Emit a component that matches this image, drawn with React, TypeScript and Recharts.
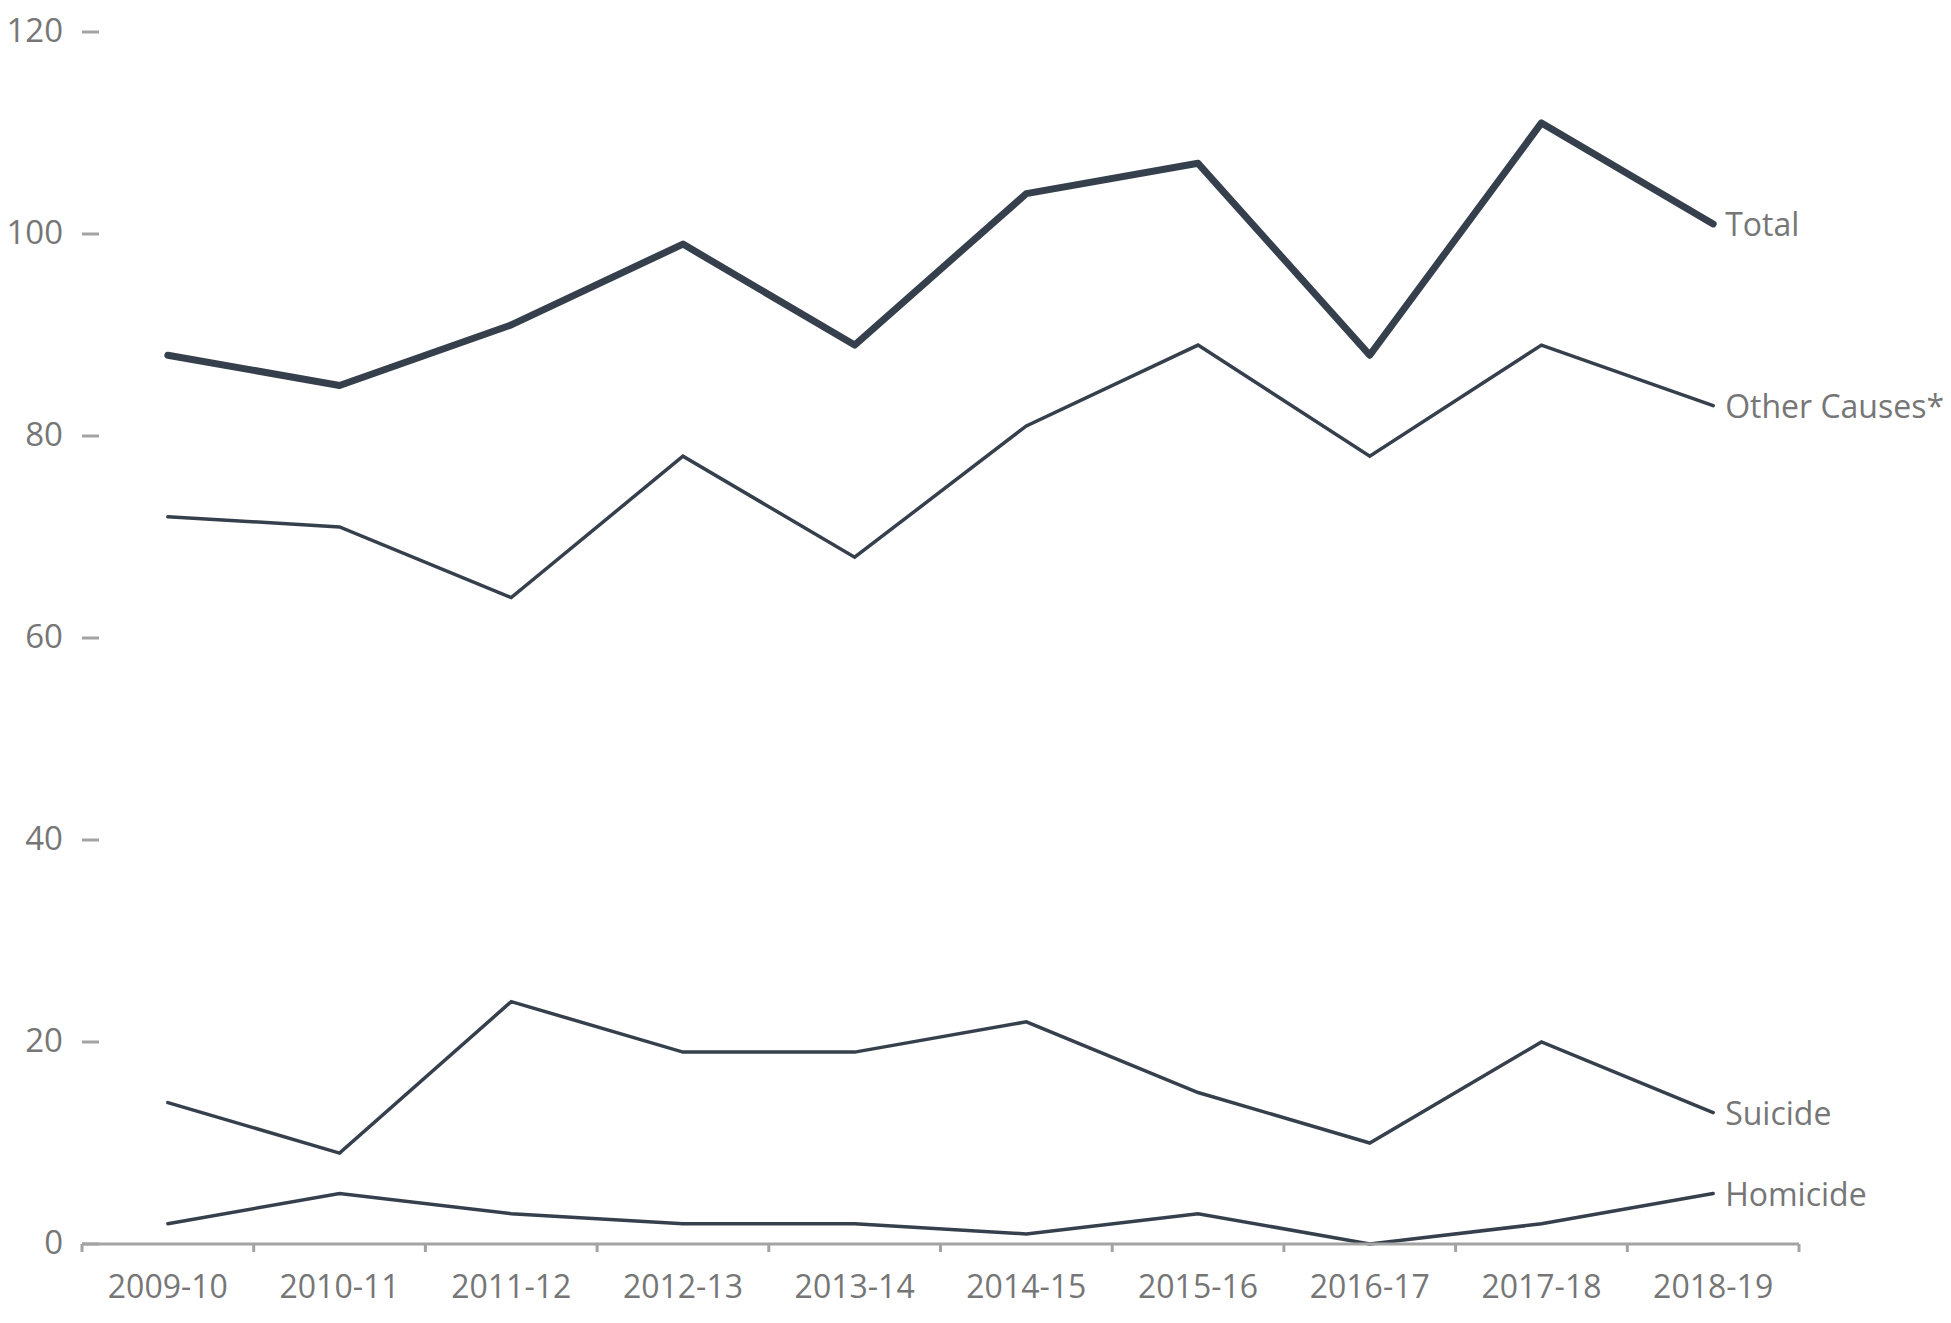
import React from "react";
import { LineChart, Line, XAxis, YAxis, LabelList } from "recharts";

const years = ["2009-10", "2010-11", "2011-12", "2012-13", "2013-14", "2014-15", "2015-16", "2016-17", "2017-18", "2018-19"];
const total = [88, 85, 91, 99, 89, 104, 107, 88, 111, 101];
const otherCauses = [72, 71, 64, 78, 68, 81, 89, 78, 89, 83];
const suicide = [14, 9, 24, 19, 19, 22, 15, 10, 20, 13];
const homicide = [2, 5, 3, 2, 2, 1, 3, 0, 2, 5];
const yTicks = [0, 20, 40, 60, 80, 100, 120];

const data = years.map((y, i) => ({
  year: y,
  total: total[i],
  other: otherCauses[i],
  suicide: suicide[i],
  homicide: homicide[i],
}));

const LINE = "#36404d";
const GREY = "#a3a3a3";
const TEXT = "#767676";
const FONT = "'Open Sans', 'Noto Sans', sans-serif";

const YTick = (props: any) => {
  const { x, y, payload } = props;
  return (
    <g>
      <text x={x - 19} y={y - 3} textAnchor="end" dominantBaseline="central" fill={TEXT} fontSize={33} fontFamily={FONT}>
        {payload.value}
      </text>
      <line x1={x} x2={x + 17} y1={y} y2={y} stroke={GREY} strokeWidth={3} />
    </g>
  );
};

const XTick = (props: any) => {
  const { x, y, payload, index } = props;
  const half = payload && payload.offset ? payload.offset : 85.8;
  return (
    <g>
      <line x1={x - half} x2={x - half} y1={y} y2={y + 8} stroke={GREY} strokeWidth={3} />
      {index === years.length - 1 && (
        <line x1={x + half} x2={x + half} y1={y} y2={y + 8} stroke={GREY} strokeWidth={3} />
      )}
      <text x={x} y={y + 41} textAnchor="middle" dominantBaseline="central" fill={TEXT} fontSize={32} fontFamily={FONT}>
        {payload.value}
      </text>
    </g>
  );
};

const makeEndLabel = (name: string) => (props: any) => {
  const { x, y, index } = props;
  if (index !== years.length - 1) return null;
  return (
    <text x={x + 12} y={y} dominantBaseline="central" textAnchor="start" fill={TEXT} fontSize={32} fontFamily={FONT}>
      {name}
    </text>
  );
};

export default function App() {
  return (
    <div style={{ marginLeft: -8, marginTop: -8, width: 1951, height: 1323 }}>
      <LineChart
        width={1951}
        height={1323}
        data={data}
        margin={{ top: 32, right: 152, left: 0, bottom: 0 }}
      >
        <XAxis
          dataKey="year"
          scale="band"
          height={79}
          axisLine={{ stroke: GREY, strokeWidth: 3 }}
          tickLine={false}
          tickSize={0}
          tickMargin={0}
          tick={<XTick />}
          interval={0}
        />
        <YAxis
          width={82}
          domain={[0, 120]}
          ticks={yTicks}
          axisLine={false}
          tickLine={false}
          tickSize={0}
          tickMargin={0}
          tick={<YTick />}
          interval={0}
        />
        <Line dataKey="total" stroke={LINE} strokeWidth={7} dot={false} isAnimationActive={false} strokeLinejoin="round" strokeLinecap="round">
          <LabelList dataKey="total" content={makeEndLabel("Total")} />
        </Line>
        <Line dataKey="other" stroke={LINE} strokeWidth={3.5} dot={false} isAnimationActive={false} strokeLinejoin="miter" strokeLinecap="round">
          <LabelList dataKey="other" content={makeEndLabel("Other Causes*")} />
        </Line>
        <Line dataKey="suicide" stroke={LINE} strokeWidth={3.5} dot={false} isAnimationActive={false} strokeLinejoin="miter" strokeLinecap="round">
          <LabelList dataKey="suicide" content={makeEndLabel("Suicide")} />
        </Line>
        <Line dataKey="homicide" stroke={LINE} strokeWidth={3.5} dot={false} isAnimationActive={false} strokeLinejoin="miter" strokeLinecap="round">
          <LabelList dataKey="homicide" content={makeEndLabel("Homicide")} />
        </Line>
      </LineChart>
    </div>
  );
}
